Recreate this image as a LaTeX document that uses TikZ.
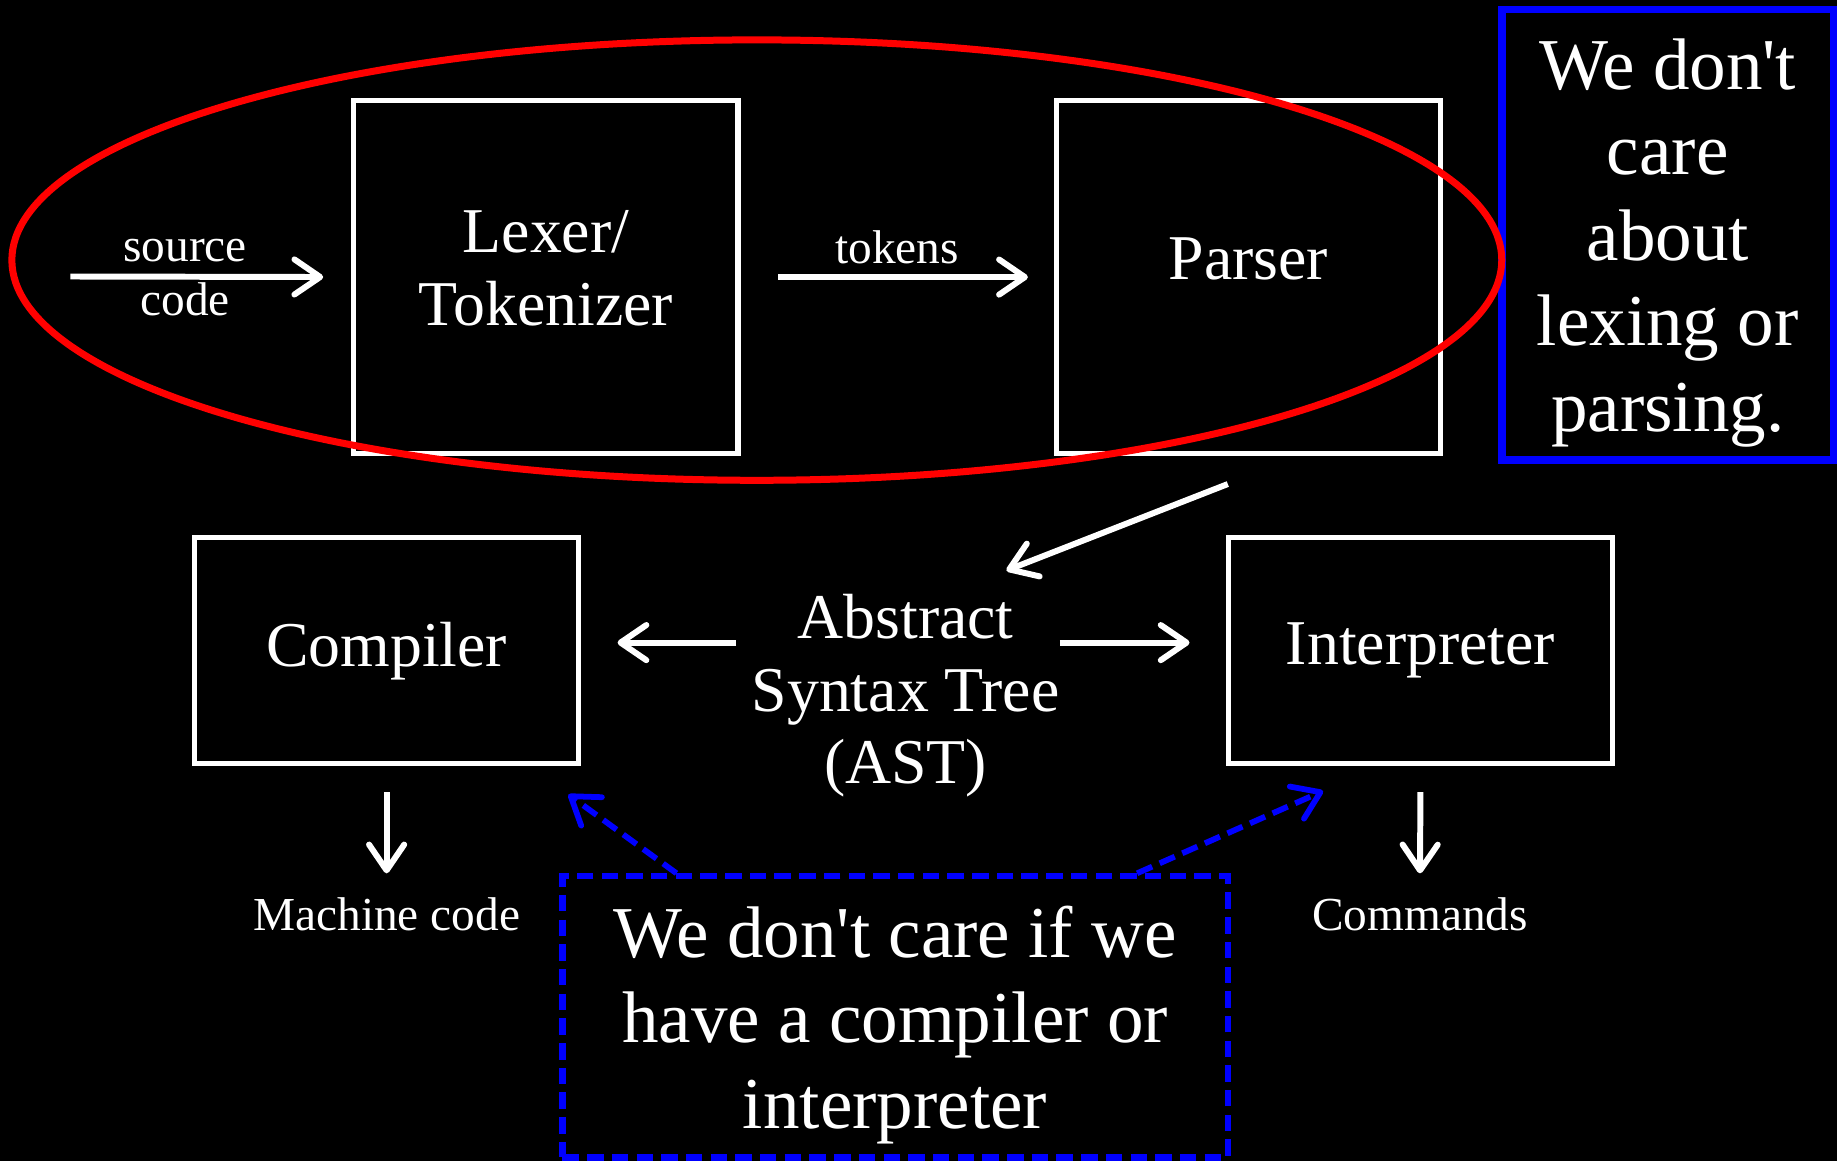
\documentclass[tikz,border=0pt]{standalone}
\usepackage{fontspec}
\setmainfont{Liberation Serif}
\usetikzlibrary{arrows.meta,  % arrow tips
  shapes.geometric,           % ellipse
  positioning}                % relative placement

\begin{document}
\begin{tikzpicture}[x=0.02cm,y=-0.02cm,>={Straight Barb[length=0.44cm,width=0.6cm,round]},
  % global look: white lines on a black slide
  every node/.style={text=white},
  stage/.style={draw=white,line width=2.5pt,minimum width=6.56cm,align=center,
    font=\fontsize{31}{35.3}\selectfont},
  small/.style={inner sep=0pt,align=center,font=\fontsize{23}{26.2}\selectfont},
  note/.style={draw=blue,align=center,font=\fontsize{35.5}{41.5}\selectfont},
  arr/.style={->,draw=white,line width=2.9pt},
  hint/.style={->,draw=blue,line width=2.8pt,dash pattern=on 8pt off 4pt}]

  % background (fixes the margins too)
  \fill[black] (0,0) rectangle (1568,991);
  \useasboundingbox (0,0) rectangle (1568,991);

  % front end
  \node [stage,minimum height=6.02cm,text depth=0.3cm] (lexer) at (466,236.5) {Lexer/\\Tokenizer};
  \node [stage,minimum height=6.02cm,text depth=0.62cm] (parser) at (1065.5,236.5) {Parser};

  \coordinate (src) at (60,236);
  \node [small] (srclbl) at (158,237) {source\\code};
  \draw [arr,shorten >=0.48cm] (src) -- (lexer.west);

  \draw [arr,shorten <=0.64cm,shorten >=0.44cm] (lexer.east) -- (parser.west)
    node [small,midway,above=0.18cm] (toklbl) {tokens};

  % back ends
  \node [inner sep=0pt,align=center,font=\fontsize{31}{35.3}\selectfont] (ast) at (773,594)
    {Abstract\\Syntax Tree\\(AST)};
  \node [stage,minimum height=3.86cm] (compiler) at (330,555.5) {Compiler};
  \node [stage,minimum height=3.86cm] (interp) at (1212.5,555.5) {Interpreter};

  \draw [arr] ([xshift=-0.35cm,yshift=-0.48cm]parser.south) -- ([xshift=0.26cm,yshift=0.4cm]ast.50);
  \draw [arr,shorten <=0.26cm,shorten >=0.62cm,transform canvas={yshift=0.14cm}]
    (ast.west |- compiler.east) -- (compiler.east);
  \draw [arr,shorten >=0.62cm,transform canvas={yshift=0.14cm}]
    (ast.east |- interp.west) -- (interp.west);

  \node [small] (mc) at (330,780) {Machine code};
  \node [small] (cmd) at (1212,780) {Commands};
  \draw [arr,shorten <=0.44cm,shorten >=0.4cm] (compiler.south) -- (mc.north);
  \draw [arr,shorten <=0.44cm,shorten >=0.4cm] (interp.south) -- (cmd.north);

  % remarks
  \node [note,line width=3.8pt,minimum width=5.66cm,minimum height=7.7cm,text depth=0cm] (note1) at (1423.5,200.5)
    {We don\textquotesingle t\\care\\about\\lexing or\\parsing.};
  \node [note,line width=3pt,dash pattern=on 8pt off 4pt,minimum width=11.36cm,minimum height=4.8cm,text depth=0cm]
    (note2) at (764,868) {We don\textquotesingle t care if we\\have a compiler or\\interpreter};

  \draw [hint] ([xshift=2cm]note2.north west) -- ([xshift=-0.22cm,yshift=-0.48cm]compiler.south east);
  \draw [hint] ([xshift=-1.6cm]note2.north east) -- ([xshift=1.66cm,yshift=-0.42cm]interp.south west);

  % the part we skip
  \node [draw=red,line width=3.4pt,ellipse,inner sep=0pt,minimum width=25.44cm,minimum height=7.52cm]
    (front) at (646,222) {};

\end{tikzpicture}
\end{document}
